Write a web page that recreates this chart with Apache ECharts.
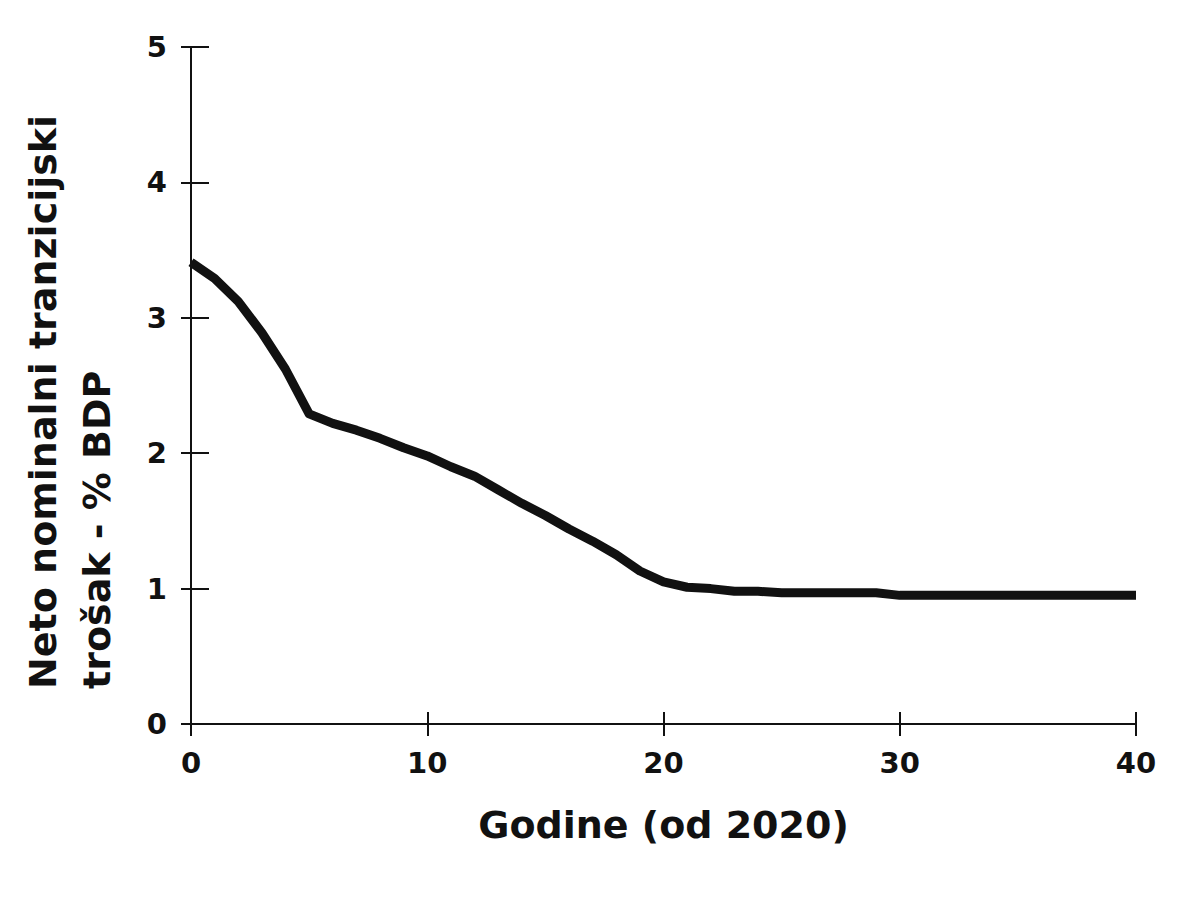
<!DOCTYPE html>
<html>
<head>
<meta charset="utf-8">
<script src="https://cdn.jsdelivr.net/npm/echarts@6/dist/echarts.min.js"></script>
<style>
html,body{margin:0;padding:0;background:#fff;}
#chart{width:1181px;height:921px;}
</style>
</head>
<body>
<div id="chart"></div>
<script>
// Data
const years = [0,1,2,3,4,5,6,7,8,9,10,11,12,13,14,15,16,17,18,19,20,21,22,23,24,25,26,27,28,29,30,31,32,33,34,35,36,37,38,39,40];
const cost  = [3.41,3.29,3.12,2.89,2.62,2.29,2.22,2.17,2.11,2.04,1.98,1.90,1.83,1.73,1.63,1.54,1.44,1.35,1.25,1.13,1.05,1.01,1.00,0.98,0.98,0.97,0.97,0.97,0.97,0.97,0.95,0.95,0.95,0.95,0.95,0.95,0.95,0.95,0.95,0.95,0.95];
const xTicks = [0,10,20,30,40];
const yTicks = [0,1,2,3,4,5];
const xTitle = 'Godine (od 2020)';
const yTitle1 = 'Neto nominalni tranzicijski';
const yTitle2 = 'trošak - % BDP';

const FONT = '"DejaVu Sans", Verdana, sans-serif';
const INK = '#111';

const chart = echarts.init(document.getElementById('chart'), null, {renderer: 'svg'});
const axisBase = (min, max, interval) => ({
  type: 'value', min: min, max: max, interval: interval,
  splitLine: {show: false}
});
chart.setOption({
  backgroundColor: '#fff',
  animation: false,
  grid: {left: 191, right: 45, top: 47, bottom: 197, containLabel: false},
  xAxis: [
    Object.assign(axisBase(xTicks[0], xTicks[xTicks.length-1], xTicks[1]-xTicks[0]), {
      position: 'bottom',
      axisLine: {show: true, onZero: false, lineStyle: {color: INK, width: 2}},
      axisTick: {show: true, inside: false, length: 12, lineStyle: {color: INK, width: 2}},
      axisLabel: {show: true, margin: 24, color: INK, fontFamily: FONT, fontWeight: 'bold', fontSize: 29},
      name: xTitle, nameLocation: 'middle', nameGap: 82,
      nameTextStyle: {color: INK, fontFamily: FONT, fontWeight: 'bold', fontSize: 38}
    }),
    Object.assign(axisBase(xTicks[0], xTicks[xTicks.length-1], xTicks[1]-xTicks[0]), {
      position: 'bottom',
      axisLine: {show: false, onZero: false},
      axisTick: {show: true, inside: true, length: 12, lineStyle: {color: INK, width: 2}},
      axisLabel: {show: false}
    })
  ],
  yAxis: [
    Object.assign(axisBase(yTicks[0], yTicks[yTicks.length-1], yTicks[1]-yTicks[0]), {
      position: 'left',
      axisLine: {show: true, onZero: false, lineStyle: {color: INK, width: 2}},
      axisTick: {show: true, inside: false, length: 10, lineStyle: {color: INK, width: 2}},
      axisLabel: {show: true, margin: 24, color: INK, fontFamily: FONT, fontWeight: 'bold', fontSize: 29}
    }),
    Object.assign(axisBase(yTicks[0], yTicks[yTicks.length-1], yTicks[1]-yTicks[0]), {
      position: 'left',
      axisLine: {show: false, onZero: false},
      axisTick: {show: true, inside: true, length: 18, lineStyle: {color: INK, width: 2}},
      axisLabel: {show: false}
    })
  ],
  graphic: [
    {type: 'text', x: 62, y: 689, rotation: Math.PI/2,
     style: {text: yTitle1, fill: INK, font: 'bold 38px ' + FONT, align: 'left', verticalAlign: 'bottom'}},
    {type: 'text', x: 116, y: 689, rotation: Math.PI/2,
     style: {text: yTitle2, fill: INK, font: 'bold 38px ' + FONT, align: 'left', verticalAlign: 'bottom'}}
  ],
  series: [{
    type: 'line',
    xAxisIndex: 0, yAxisIndex: 0,
    data: years.map((x, i) => [x, cost[i]]),
    showSymbol: false, symbol: 'none',
    lineStyle: {color: INK, width: 9, join: 'round', cap: 'butt'},
    z: 3
  }]
});
</script>
</body>
</html>
